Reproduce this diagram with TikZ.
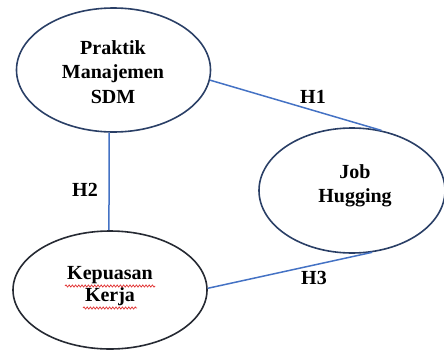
\documentclass[tikz,border=0pt]{standalone}
\usepackage{fontspec}
\setmainfont{Liberation Serif}
\usetikzlibrary{shapes.geometric,decorations.pathmorphing}
\definecolor{navy}{HTML}{2A3F66}
\definecolor{darkline}{HTML}{262A33}
\definecolor{linkblue}{HTML}{4472C4}
\definecolor{squig}{HTML}{E03030}
\tikzset{
  varbox/.style={ellipse, draw=navy, line width=1.6pt, inner sep=0pt,
    align=center, font=\fontsize{20}{24.5}\selectfont\bfseries},
  link/.style={draw=linkblue, line width=1.5pt},
  hlabel/.style={font=\fontsize{20}{24}\selectfont\bfseries, inner sep=0pt},
  squiggle/.style={draw=squig, line width=0.7pt, decorate,
    decoration={snake, amplitude=1.1pt, segment length=3.2pt}}
}
\begin{document}
\begin{tikzpicture}[x=1pt,y=-1pt]
\useasboundingbox (0,0) rectangle (444,351);
\node[varbox, minimum width=194pt, minimum height=124pt] (prak) at (113.5,70) {};
\node[varbox, minimum width=186pt, minimum height=125pt] (job) at (352,190.5) {};
\node[varbox, draw=darkline, minimum width=194pt, minimum height=118pt] (kep) at (110,290) {};
\node[align=center, font=\fontsize{20}{24.5}\selectfont\bfseries] (praktxt) at (113,72) {Praktik\\Manajemen\\SDM};
\node[align=center, font=\fontsize{20}{24.5}\selectfont\bfseries] (jobtxt) at (355,186) {Job\\Hugging};
\node[align=center, font=\fontsize{20}{22}\selectfont\bfseries] (keptxt) at (110,286) {Kepuasan\\Kerja};
\draw[link] (prak.-6.5) -- (job.64);
\draw[link] (prak.-94) -- (kep.91);
\draw[link] (kep.1) -- (job.-72);
\node[hlabel] (h1) at (313,97) {H1};
\node[hlabel] (h2) at (85,190) {H2};
\node[hlabel] (h3) at (314,278) {H3};
\coordinate (s1a) at (65,286);
\coordinate (s1b) at (155,286);
\coordinate (s2a) at (83,308);
\coordinate (s2b) at (137,308);
\draw[squiggle] (s1a) -- (s1b);
\draw[squiggle] (s2a) -- (s2b);
\end{tikzpicture}
\end{document}
